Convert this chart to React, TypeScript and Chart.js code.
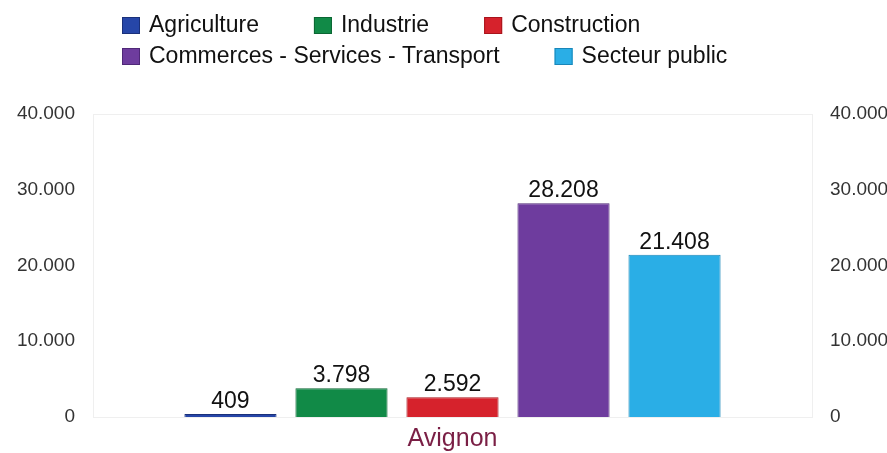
import React, { useEffect, useRef } from "react";
import { Chart, registerables } from "chart.js";

Chart.register(...registerables);

const categories = ["Avignon"];
const seriesNames = [
  "Agriculture",
  "Industrie",
  "Construction",
  "Commerces - Services - Transport",
  "Secteur public",
];
const seriesValues = [[409], [3798], [2592], [28208], [21408]];
const seriesColors = ["#2646a8", "#118a47", "#d6222c", "#6e3c9e", "#2aaee6"];
const seriesBorders = ["#1a307a", "#0b6633", "#a8141c", "#4f2878", "#1a86b8"];
const legendRows = [[0, 1, 2], [3, 4]];
const yTicksMax = 40000;
const yStep = 10000;

const fmt = (v: number) => Math.round(v).toString().replace(/\B(?=(\d{3})+(?!\d))/g, ".");
const FONT = "'Liberation Sans', Arial, sans-serif";

const legendPlugin = {
  id: "customLegend",
  afterDraw(chart: any) {
    const ctx = chart.ctx;
    ctx.save();
    ctx.font = `23px ${FONT}`;
    ctx.textBaseline = "middle";
    const rowY = [25, 56];
    legendRows.forEach((row, ri) => {
      let x = 122;
      row.forEach((i) => {
        const y = rowY[ri];
        ctx.fillStyle = seriesColors[i];
        ctx.fillRect(x, y - 8, 18, 17);
        ctx.strokeStyle = seriesBorders[i];
        ctx.lineWidth = 1;
        ctx.strokeRect(x + 0.5, y - 7.5, 17, 16);
        ctx.fillStyle = "#111";
        ctx.textAlign = "left";
        ctx.fillText(seriesNames[i], x + 27, y + 1);
        x += 27 + ctx.measureText(seriesNames[i]).width + 55;
      });
    });
    ctx.restore();
  },
};

const frameAndLabels = {
  id: "frameAndLabels",
  beforeDatasetsDraw(chart: any) {
    const { ctx, chartArea } = chart;
    ctx.save();
    ctx.strokeStyle = "#efefef";
    ctx.lineWidth = 1;
    ctx.strokeRect(
      Math.round(chartArea.left) + 0.5,
      Math.round(chartArea.top) + 0.5,
      Math.round(chartArea.right - chartArea.left),
      Math.round(chartArea.bottom - chartArea.top)
    );
    ctx.restore();
  },
  afterDatasetsDraw(chart: any) {
    const ctx = chart.ctx;
    ctx.save();
    ctx.font = `23px ${FONT}`;
    ctx.fillStyle = "#111";
    ctx.textAlign = "center";
    ctx.textBaseline = "alphabetic";
    chart.data.datasets.forEach((ds: any, di: number) => {
      const meta = chart.getDatasetMeta(di);
      meta.data.forEach((bar: any, j: number) => {
        ctx.fillText(fmt(ds.data[j]), bar.x, bar.y - 6);
      });
    });
    ctx.restore();
  },
};

export default function App() {
  const ref = useRef<HTMLCanvasElement | null>(null);
  useEffect(() => {
    if (!ref.current) return;
    const tickFont = { size: 19, family: FONT };
    const chart = new Chart(ref.current, {
      type: "bar",
      data: {
        labels: categories,
        datasets: seriesNames.map((name, i) => ({
          label: name,
          data: seriesValues[i],
          backgroundColor: seriesColors[i],
          borderColor: seriesBorders[i],
          borderWidth: 1,
          categoryPercentage: 0.772,
          barPercentage: 0.83,
          yAxisID: "y",
        })),
      },
      options: {
        animation: false,
        responsive: false,
        maintainAspectRatio: false,
        layout: { padding: { top: 114, left: 0, right: 0, bottom: 0 } },
        plugins: {
          legend: { display: false },
          tooltip: { enabled: false },
          title: { display: false },
        },
        scales: {
          x: {
            grid: { display: false, drawTicks: false },
            border: { display: false },
            ticks: {
              color: "#7a1f45",
              font: { size: 25, family: FONT },
              padding: 7,
            },
            afterFit: (s: any) => {
              s.height = 36;
            },
          },
          y: {
            position: "left",
            min: 0,
            max: yTicksMax,
            grid: { display: false, drawTicks: false },
            border: { display: false },
            ticks: {
              stepSize: yStep,
              color: "#333",
              font: tickFont,
              padding: 18,
              callback: (v: any) => fmt(Number(v)),
            },
            afterFit: (s: any) => {
              s.width = 93;
            },
          },
          y2: {
            position: "right",
            min: 0,
            max: yTicksMax,
            grid: { display: false, drawTicks: false },
            border: { display: false },
            ticks: {
              stepSize: yStep,
              color: "#333",
              font: tickFont,
              padding: 18,
              callback: (v: any) => fmt(Number(v)),
            },
            afterFit: (s: any) => {
              s.width = 75;
            },
          },
        },
      },
      plugins: [legendPlugin, frameAndLabels],
    });
    return () => chart.destroy();
  }, []);
  return (
    <div style={{ position: "fixed", left: 0, top: 0, width: 887, height: 453, background: "#fff" }}>
      <canvas ref={ref} width={887} height={453} style={{ width: 887, height: 453 }} />
    </div>
  );
}
